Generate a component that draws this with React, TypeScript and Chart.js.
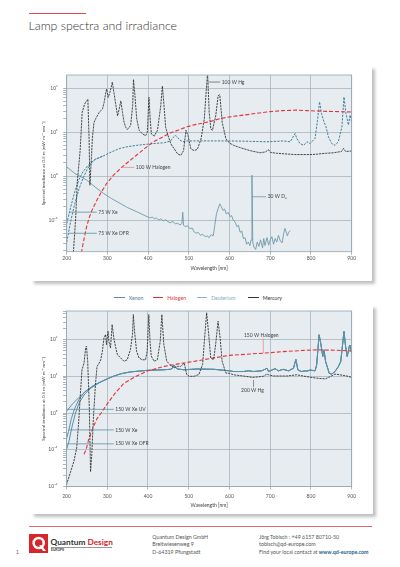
import React, { useEffect, useRef } from 'react';
import { Chart, registerables } from 'chart.js';

Chart.register(...registerables);

// ---------------- data ----------------
const xTickValues = [200, 300, 400, 500, 600, 700, 800, 900];
const yDecadeLabels: Record<string, string> = { '-2': '10⁻²', '-1': '10⁻¹', '0': '10⁰', '1': '10¹', '2': '10²' };

// Top chart: 100 W Hg
const hg100Wl = [216,222,226,233,238,244,249,252,255,257,261,263,267,271,275,280,284,288,292,296,298,302,306,310,312,316,321,325,329,333,337,341,345,349,357,362,364,367,372,378,386,394,398,402,405,408,415,423,431,435,439,443,449,456,464,472,480,487,493,498,505,513,521,530,538,543,546,550,554,558,566,572,576,582,591,600,610,625,650,675,688,696,700,715,760,800,816,825,838,855,875,880,885,900];
const hg100Val = [0.0158,0.110,0.741,3.80,28.2,43.7,51.3,56.2,7.08,0.617,2.95,7.08,16.6,20.0,23.4,28.2,30.9,33.9,47.9,79.4,95.5,61.7,79.4,112,138,79.4,39.8,23.4,33.9,51.3,28.2,16.6,12.9,11.5,14.1,39.8,158,79.4,20.0,11.0,9.12,8.32,10.0,61.7,20.0,9.12,8.13,11.0,39.8,112,39.8,12.9,8.32,5.37,4.17,3.24,2.95,3.80,11.0,8.32,4.17,3.80,4.07,7.08,20.0,95.5,224,28.2,11.7,11.0,23.4,67.6,70.8,16.6,7.08,5.62,5.01,4.47,3.80,3.39,3.55,3.98,3.47,3.31,3.09,3.09,3.16,3.24,3.31,3.39,3.63,4.27,3.63,3.72];

// Top chart: 100 W Halogen
const hal100Wl = [236,240,245,249,255,262,274,286,298,315,335,355,372,392,413,434,454,475,495,515,536,556,577,609,636,691,730,765,790,814,850,900];
const hal100Val = [0.0178,0.0282,0.0479,0.0708,0.112,0.166,0.282,0.447,0.676,1.05,1.58,2.24,3.02,4.27,6.03,7.59,9.55,11.2,13.2,14.8,16.2,17.8,20.4,22.9,24.5,28.8,30.9,31.6,30.9,30.2,29.5,28.8];

// Top chart: 75 W Xe
const xe75Wl = [200,210,220,230,240,253,270,290,310,331,350,372,392,413,440,455,462,467,472,478,485,495,520,550,577,600,651,692,732,749,761,765,773,782,790,798,810,816,821,826,832,837,843,851,859,867,876,881,886,892,896,900];
const xe75Val = [0.0832,0.200,0.447,0.832,1.26,1.78,2.40,2.88,3.55,4.27,4.68,5.01,5.25,5.50,5.75,6.31,7.59,8.51,7.59,6.61,6.03,6.31,6.31,6.31,6.31,6.31,6.17,6.03,6.31,6.03,9.33,7.24,5.50,5.01,6.03,5.50,7.24,18.6,49.0,26.3,17.0,13.2,7.76,5.50,5.01,6.03,13.2,63.1,26.3,14.5,24.5,17.0];

// Top chart: 75 W Xe OFR (joins the 75 W Xe curve)
const xe75OfrWl = [200,210,220,230,240,250,260,270,290];
const xe75OfrVal = [0.0316,0.0955,0.240,0.501,0.891,1.41,2.0,2.40,2.88];

// Top chart: 30 W D2
const d2Wl = [200,220,249,270,290,310,331,350,372,397,405,410,415,420,426,431,437,443,449,455,461,467,472,478,483,485,487,492,497,503,508,513,518,523,529,534,540,545,550,555,560,564,568,572,576,580,584,588,592,597,601,605,609,614,618,622,626,630,634,638,642,646,650,653,655,657,660,664,668,672,676,681,684,687,692,696,700,704,708,712,716,720,725,729,733,736,740,742,745,749];
const d2Val = [1.62,1.15,0.813,0.562,0.407,0.309,0.240,0.191,0.155,0.120,0.112,0.117,0.107,0.112,0.100,0.107,0.0955,0.102,0.0912,0.0871,0.0933,0.0813,0.0851,0.0776,0.0832,0.151,0.0759,0.0708,0.0741,0.0631,0.0661,0.0537,0.0501,0.0525,0.0447,0.0479,0.0417,0.0437,0.0398,0.0468,0.0437,0.0794,0.141,0.182,0.234,0.200,0.166,0.178,0.138,0.148,0.120,0.126,0.100,0.0891,0.0708,0.0759,0.0525,0.0562,0.0380,0.0398,0.0282,0.0316,0.0263,0.0355,1.05,0.0316,0.0240,0.0214,0.0316,0.0251,0.0355,0.0234,0.0380,0.0263,0.0398,0.0269,0.0355,0.0417,0.0282,0.0380,0.0316,0.0447,0.0331,0.0302,0.0501,0.0646,0.0501,0.0437,0.0525,0.0575];

// Bottom chart: 200 W Hg
const hg200Wl = [200,210,218,225,230,234,238,243,247,249,252,256,259,262,266,271,275,280,284,288,292,296,298,302,304,308,312,316,321,325,333,341,349,357,362,364,367,372,378,386,394,398,402,405,408,415,423,430,434,439,446,454,464,472,480,489,495,501,513,525,534,539,544,549,554,561,566,572,577,582,591,600,610,634,657,683,692,696,708,741,765,790,814,835,847,859,871,888,900];
const hg200Val = [0.0112,0.0251,0.0479,0.112,0.589,3.16,15.1,22.9,58.9,66.1,25.7,1.38,0.0251,0.0724,0.724,5.89,18.6,22.9,28.2,47.9,112,138,72.4,170,89.1,58.9,257,112,58.9,38.9,31.6,25.7,28.2,53.7,138,479,170,47.9,31.6,28.2,28.2,47.9,479,89.1,35.5,25.7,28.2,89.1,479,72.4,25.7,20.9,17.0,18.6,18.6,22.9,11.2,10.0,10.0,11.2,20.9,112,537,138,31.6,28.2,72.4,316,112,25.7,12.3,12.0,11.0,10.2,9.33,10.0,11.5,11.0,10.2,10.2,11.0,9.77,8.91,8.51,9.77,11.5,11.0,10.2,9.33];

// Bottom chart: 150 W Halogen
const hal150Wl = [243,248,255,265,275,285,300,320,340,365,400,440,480,520,560,600,640,683,730,773,814,860,900];
const hal150Val = [0.0759,0.100,0.200,0.398,0.708,1.00,1.78,3.55,6.31,9.33,14.1,18.6,22.4,26.3,31.6,37.2,39.8,42.7,46.8,50.1,52.5,51.3,49.0];

// Bottom chart: 150 W Xe lamps (shared part above 300 nm, separate UV starts)
const xe150Wl = [300,315,333,357,398,439,455,460,464,468,472,488,521,562,600,610,634,647,659,679,687,692,696,704,712,720,732,745,757,763,768,777,786,790,798,810,814,820,824,829,832,836,840,845,851,859,867,873,878,881,885,889,894,896,900];
const xe150Val = [8.51,10.0,11.7,13.2,14.5,15.1,15.5,16.6,20.0,17.4,15.8,15.1,15.8,15.5,14.1,13.5,13.5,14.1,13.5,14.1,15.5,16.6,13.5,14.8,16.2,14.1,15.5,14.1,16.6,28.8,14.8,13.5,14.1,13.8,14.8,14.1,20.4,135,79.4,34.7,52.5,25.1,18.2,12.0,11.5,13.5,18.2,25.1,79.4,166,64.6,34.7,64.6,70.8,42.7];
const xeUvStartWl = [200,215,230,245,260,275,290];
const xeUvStartVal = [1.12,1.78,2.63,3.72,5.01,6.31,7.59];
const xeStdStartWl = [200,205,212,220,230,245,262,280];
const xeStdStartVal = [0.200,0.316,0.708,1.32,2.29,3.80,5.25,6.76];
const xeOfrStartWl = [200,206,214,222,232,245,260,280];
const xeOfrStartVal = [0.100,0.170,0.447,1.0,2.0,3.31,4.79,6.61];

// ---------------- styles ----------------
const FONT = 'Lato, "Open Sans", "DejaVu Sans", sans-serif';
const PLOT_BG = '#e6ecef';
const GRID = '#a7b6bf';
const FRAME = '#93a6b1';
const TICK_TEXT = '#555';
const LABEL_TEXT = '#444';
const XE_TOP = '#3d7e9b';
const XE_BOT = '#5d90a8';
const D2_COL = '#6f98ab';
const HAL_COL = '#e2333b';
const HG_COL = '#333333';

type Ann = { text: string; x1: number; y1: number; x2: number; y2: number; pos: 'right' | 'above' | 'below'; color: string };

const topAnnotations: Ann[] = [
  { text: '100 W Hg', x1: 548, y1: 138, x2: 577, y2: 138, pos: 'right', color: '#666' },
  { text: '100 W Halogen', x1: 335, y1: 1.58, x2: 366, y2: 1.58, pos: 'right', color: '#ea8d90' },
  { text: '75 W Xe', x1: 208, y1: 0.151, x2: 274, y2: 0.151, pos: 'right', color: XE_BOT },
  { text: '75 W Xe OFR', x1: 204, y1: 0.05, x2: 274, y2: 0.05, pos: 'right', color: XE_BOT },
  { text: '30 W D₂', x1: 655, y1: 0.339, x2: 690, y2: 0.339, pos: 'right', color: D2_COL },
];
const bottomAnnotations: Ann[] = [
  { text: '150 W Halogen', x1: 683, y1: 42.7, x2: 683, y2: 107, pos: 'above', color: '#ea8d90' },
  { text: '200 W Hg', x1: 659, y1: 7.94, x2: 659, y2: 5.13, pos: 'below', color: '#777' },
  { text: '150 W Xe UV', x1: 201, y1: 1.26, x2: 316, y2: 1.26, pos: 'right', color: XE_BOT },
  { text: '150 W Xe', x1: 205, y1: 0.347, x2: 316, y2: 0.347, pos: 'right', color: XE_BOT },
  { text: '150 W Xe OFR', x1: 201, y1: 0.145, x2: 316, y2: 0.145, pos: 'right', color: XE_BOT },
];

function pts(wl: number[], v: number[]) {
  return wl.map((x, i) => ({ x, y: v[i] }));
}

function isDecade(v: number | undefined) {
  if (v === undefined || v <= 0) return false;
  const l = Math.log10(v);
  return Math.abs(l - Math.round(l)) < 1e-6;
}

function logTicks(min: number, max: number) {
  const out: { value: number }[] = [];
  for (let e = -3; e <= 3; e++) {
    for (let m = 1; m <= 9; m++) {
      const v = Number((m * Math.pow(10, e)).toPrecision(6));
      if (v >= min * 0.9999 && v <= max * 1.0001) out.push({ value: v });
    }
  }
  return out;
}

const pagePlugin = {
  id: 'page',
  beforeDraw(chart: any) {
    const { ctx, chartArea: a } = chart;
    ctx.save();
    ctx.fillStyle = PLOT_BG;
    ctx.fillRect(a.left, a.top, a.right - a.left, a.bottom - a.top);
    ctx.restore();
  },
  afterDatasetsDraw(chart: any, _args: any, opts: any) {
    const { ctx, chartArea: a, scales } = chart;
    ctx.save();
    ctx.strokeStyle = FRAME;
    ctx.lineWidth = 0.8;
    ctx.strokeRect(a.left, a.top, a.right - a.left, a.bottom - a.top);
    const items: Ann[] = (opts && opts.items) || [];
    ctx.font = `5px ${FONT}`;
    for (const it of items) {
      const x1 = scales.x.getPixelForValue(it.x1);
      const y1 = scales.y.getPixelForValue(it.y1);
      const x2 = scales.x.getPixelForValue(it.x2);
      const y2 = scales.y.getPixelForValue(it.y2);
      ctx.strokeStyle = it.color;
      ctx.lineWidth = 0.8;
      ctx.beginPath();
      ctx.moveTo(x1, y1);
      ctx.lineTo(x2, y2);
      ctx.stroke();
      ctx.fillStyle = LABEL_TEXT;
      if (it.pos === 'right') {
        ctx.textAlign = 'left';
        ctx.textBaseline = 'middle';
        ctx.fillText(it.text, x2 + 1.5, y2);
      } else if (it.pos === 'above') {
        ctx.textAlign = 'center';
        ctx.textBaseline = 'bottom';
        ctx.fillText(it.text, x2 - 2, y2 - 0.5);
      } else {
        ctx.textAlign = 'center';
        ctx.textBaseline = 'top';
        ctx.fillText(it.text, x2 - 1, y2 + 1);
      }
    }
    ctx.restore();
  },
};

type Layout = {
  left: number; top: number; w: number; h: number;
  padTop: number; padRight: number; yAxisW: number; xAxisH: number;
  yMin: number; yMax: number; xTickPad: number; xTitlePad: number;
};

function buildOptions(L: Layout, ann: Ann[]): any {
  const tickFont = { family: FONT, size: 5 };
  return {
    responsive: false,
    animation: false,
    devicePixelRatio: 1,
    layout: { padding: { top: L.padTop, right: L.padRight, left: 0, bottom: 0 } },
    plugins: {
      legend: { display: false },
      tooltip: { enabled: false },
      page: { items: ann },
    },
    elements: { point: { radius: 0 }, line: { tension: 0 } },
    scales: {
      x: {
        type: 'linear',
        min: 200,
        max: 900,
        afterBuildTicks: (s: any) => { s.ticks = xTickValues.map((v) => ({ value: v })); },
        afterFit: (s: any) => { s.height = L.xAxisH; s.paddingLeft = 0; s.paddingRight = 0; },
        ticks: { autoSkip: false, maxRotation: 0, padding: L.xTickPad, color: TICK_TEXT, font: tickFont, callback: (v: any) => String(v) },
        grid: { color: GRID, lineWidth: 0.8, tickLength: 3, tickColor: FRAME },
        border: { display: false },
        title: { display: true, text: 'Wavelength [nm]', color: LABEL_TEXT, font: { family: FONT, size: 5 }, padding: { top: 0, bottom: L.xTitlePad } },
      },
      y: {
        type: 'logarithmic',
        min: L.yMin,
        max: L.yMax,
        afterBuildTicks: (s: any) => { s.ticks = logTicks(L.yMin, L.yMax); },
        afterFit: (s: any) => { s.width = L.yAxisW; s.paddingTop = 0; s.paddingBottom = 0; },
        ticks: {
          autoSkip: false,
          padding: 5.5,
          color: TICK_TEXT,
          font: tickFont,
          callback: (v: any) => (isDecade(Number(v)) ? yDecadeLabels[String(Math.round(Math.log10(Number(v))))] || '' : ''),
        },
        grid: {
          color: (c: any) => (c.tick && isDecade(c.tick.value) ? GRID : 'rgba(0,0,0,0)'),
          lineWidth: 0.8,
          tickLength: 3.5,
          tickColor: FRAME,
        },
        border: { display: false },
        title: {
          display: true,
          text: 'Spectral irradiance at 0.5 m [mW m⁻² nm⁻¹]',
          color: LABEL_TEXT,
          font: { family: FONT, size: 4.5 },
          padding: { top: 17.3, bottom: 0 },
        },
      },
    },
  };
}

function line(label: string, data: any[], color: string, width: number, dash: number[] = []) {
  return { label, data, borderColor: color, backgroundColor: color, borderWidth: width, borderDash: dash, pointRadius: 0, fill: false };
}

const topLayout: Layout = { left: 24, top: 66, w: 336, h: 214, padTop: 9, padRight: 8.3, yAxisW: 42.7, xAxisH: 28.3, yMin: 0.01905, yMax: 199.5, xTickPad: 0.8, xTitlePad: 9 };
const bottomLayout: Layout = { left: 24, top: 302, w: 336, h: 210, padTop: 9, padRight: 8.3, yAxisW: 42.5, xAxisH: 25.5, yMin: 0.01, yMax: 600, xTickPad: 4.3, xTitlePad: 3.3 };

function topDatasets() {
  return [
    line('100 W Hg', pts(hg100Wl, hg100Val), HG_COL, 0.9, [2.2, 0.9]),
    line('100 W Halogen', pts(hal100Wl, hal100Val), HAL_COL, 1.1, [4, 2]),
    line('75 W Xe', pts(xe75Wl, xe75Val), XE_TOP, 1, [2.2, 1.3]),
    line('75 W Xe OFR', pts(xe75OfrWl, xe75OfrVal), XE_TOP, 1, [2.2, 1.3]),
    line('30 W D2', pts(d2Wl, d2Val), D2_COL, 0.9),
  ];
}

function bottomDatasets() {
  return [
    line('200 W Hg', pts(hg200Wl, hg200Val), HG_COL, 0.9, [2.2, 0.9]),
    line('150 W Halogen', pts(hal150Wl, hal150Val), HAL_COL, 1.1, [4, 2]),
    line('150 W Xe UV', pts(xeUvStartWl.concat(xe150Wl), xeUvStartVal.concat(xe150Val)), XE_BOT, 1),
    line('150 W Xe', pts(xeStdStartWl.concat(xe150Wl), xeStdStartVal.concat(xe150Val)), XE_BOT, 1),
    line('150 W Xe OFR', pts(xeOfrStartWl.concat(xe150Wl), xeOfrStartVal.concat(xe150Val)), XE_BOT, 1),
  ];
}

function SpectrumChart({ L, ann, datasets }: { L: Layout; ann: Ann[]; datasets: () => any[] }) {
  const ref = useRef<HTMLCanvasElement>(null);
  useEffect(() => {
    if (!ref.current) return;
    const chart = new Chart(ref.current, {
      type: 'line',
      data: { datasets: datasets() },
      options: buildOptions(L, ann),
      plugins: [pagePlugin as any],
    } as any);
    return () => chart.destroy();
  }, []);
  return (
    <canvas
      ref={ref}
      width={L.w}
      height={L.h}
      style={{ position: 'absolute', left: L.left, top: L.top, width: L.w, height: L.h }}
    />
  );
}

const legendItems = [
  { label: 'Xenon', color: XE_BOT, text: '#4e7f96', x: 114.3 },
  { label: 'Halogen', color: HAL_COL, text: '#e2333b', x: 152.7 },
  { label: 'Deuterium', color: '#8db0c2', text: '#86a9bb', x: 196.7 },
  { label: 'Mercury', color: '#333', text: '#333', x: 248.3 },
];

const addressLines = ['Quantum Design GmbH', 'Breitwiesenweg 9', 'D-64319 Pfungstadt'];
const contactLines = ['Jörg Tobisch : +49 6157 80710-50', 'tobisch@qd-europe.com'];

export default function App() {
  const small: React.CSSProperties = { position: 'absolute', fontSize: 5.3, lineHeight: '6px', color: '#555', whiteSpace: 'nowrap' };
  const footerY = [533.7, 541, 548.7];
  return (
    <div style={{ position: 'fixed', left: 0, top: 0, width: 400, height: 567, background: '#fff', overflow: 'hidden', fontFamily: FONT }}>
      <div style={{ position: 'absolute', left: 28.5, top: 12.6, width: 57.5, height: 1.2, background: '#e2474b' }} />
      <div style={{ position: 'absolute', left: 28.5, top: 19, fontSize: 12.3, lineHeight: '14px', fontWeight: 300, color: '#333', whiteSpace: 'nowrap' }}>
        Lamp spectra and irradiance
      </div>

      <div style={{ position: 'absolute', left: 31, top: 66, width: 341, height: 215, background: '#fff', boxShadow: '3px 3px 3px rgba(0,0,0,0.25)' }} />
      <div style={{ position: 'absolute', left: 31, top: 305, width: 342, height: 209, background: '#fff', boxShadow: '3px 3px 3px rgba(0,0,0,0.25)' }} />

      <SpectrumChart L={topLayout} ann={topAnnotations} datasets={topDatasets} />
      <SpectrumChart L={bottomLayout} ann={bottomAnnotations} datasets={bottomDatasets} />

      {legendItems.map((it) => (
        <React.Fragment key={it.label}>
          <div style={{ position: 'absolute', left: it.x, top: 297, width: 10.7, height: 1.3, background: it.color }} />
          <div style={{ position: 'absolute', left: it.x + 14.5, top: 294.6, fontSize: 5.2, lineHeight: '6px', color: it.text, whiteSpace: 'nowrap' }}>{it.label}</div>
        </React.Fragment>
      ))}

      <div style={{ position: 'absolute', left: 28.5, top: 526.3, width: 343.5, height: 1, background: '#e36b6e' }} />

      <svg style={{ position: 'absolute', left: 28.7, top: 534 }} width={19.4} height={19.4} viewBox="0 0 20 20">
        <rect width="20" height="20" fill="#d6252d" />
        <circle cx="10" cy="9.3" r="5.2" fill="none" stroke="#fff" strokeWidth="2.6" />
        <path d="M10.5 11.5 L14.5 17.5 L17.5 17.5 L13.2 11.5 Z" fill="#fff" />
      </svg>
      <div style={{ position: 'absolute', left: 50.5, top: 536.8, fontSize: 8.3, lineHeight: '10px', fontWeight: 700, whiteSpace: 'nowrap' }}>
        <span style={{ color: '#333' }}>Quantum </span>
        <span style={{ color: '#d6252d' }}>Design</span>
      </div>
      <div style={{ position: 'absolute', left: 50.7, top: 547.3, width: 61.5, height: 0.6, background: '#999' }} />
      <div style={{ position: 'absolute', left: 51, top: 548.4, fontSize: 3.3, lineHeight: '4px', fontWeight: 700, color: '#333', whiteSpace: 'nowrap' }}>EUROPE</div>

      <div style={{ ...small, left: 16, top: 548.7, fontSize: 5 }}>1</div>

      {addressLines.map((t, i) => (
        <div key={t} style={{ ...small, left: 152.3, top: footerY[i] }}>{t}</div>
      ))}
      {contactLines.map((t, i) => (
        <div key={t} style={{ ...small, left: 259, top: footerY[i] }}>{t}</div>
      ))}
      <div style={{ ...small, left: 259, top: footerY[2] }}>
        Find your local contact at <span style={{ color: '#1d5e8e', fontWeight: 700 }}>www.qd-europe.com</span>
      </div>
    </div>
  );
}
